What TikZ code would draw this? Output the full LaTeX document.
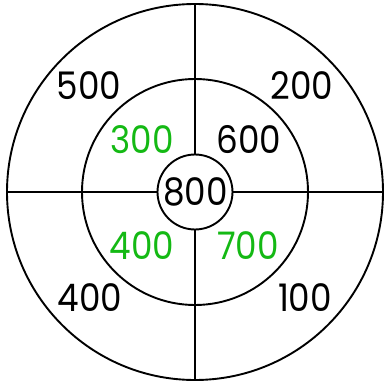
\documentclass[tikz,border=0pt]{standalone}
\usepackage{fontspec}
\setmainfont{Poppins}
\definecolor{lbl}{RGB}{20,185,20}
\newcommand{\dg}[1]{\scalebox{0.9}[1]{#1}}
\begin{document}
\begin{tikzpicture}[x=1pt,y=-1pt,
  ring/.style={draw=black,line width=1.9pt,circle,inner sep=0pt},
  spoke/.style={line width=1.9pt},
  num/.style={font=\fontsize{38}{38}\selectfont,inner sep=0pt,anchor=center},
  gnum/.style={num,text=lbl}]
\useasboundingbox (0,0) rectangle (384,383);
\node[ring,minimum size=376pt] (outer) at (195,192) {};
\node[ring,minimum size=226pt] (mid) at (195,192) {};
\node[ring,minimum size=75pt] (inner) at (195,192) {};
\node[num] (c) at (195.5,192) {\dg{800}};
\draw[spoke] (inner.north) -- (outer.north);
\draw[spoke] (inner.south) -- (outer.south);
\draw[spoke] (inner.west) -- (outer.west);
\draw[spoke] (inner.east) -- (outer.east);
\node[gnum] (a300) at (142,140) {\dg{300}};
\node[num] (a600) at (249,140) {\dg{600}};
\node[gnum] (a400g) at (142,246) {\dg{400}};
\node[gnum] (a700) at (248,246) {\dg{700}};
\node[num] (a500) at (89,86) {\dg{500}};
\node[num] (a200) at (302,86) {\dg{200}};
\node[num] (a400) at (90,298) {\dg{400}};
\node[num] (a100) at (305,298) {\dg{100}};
\end{tikzpicture}
\end{document}
